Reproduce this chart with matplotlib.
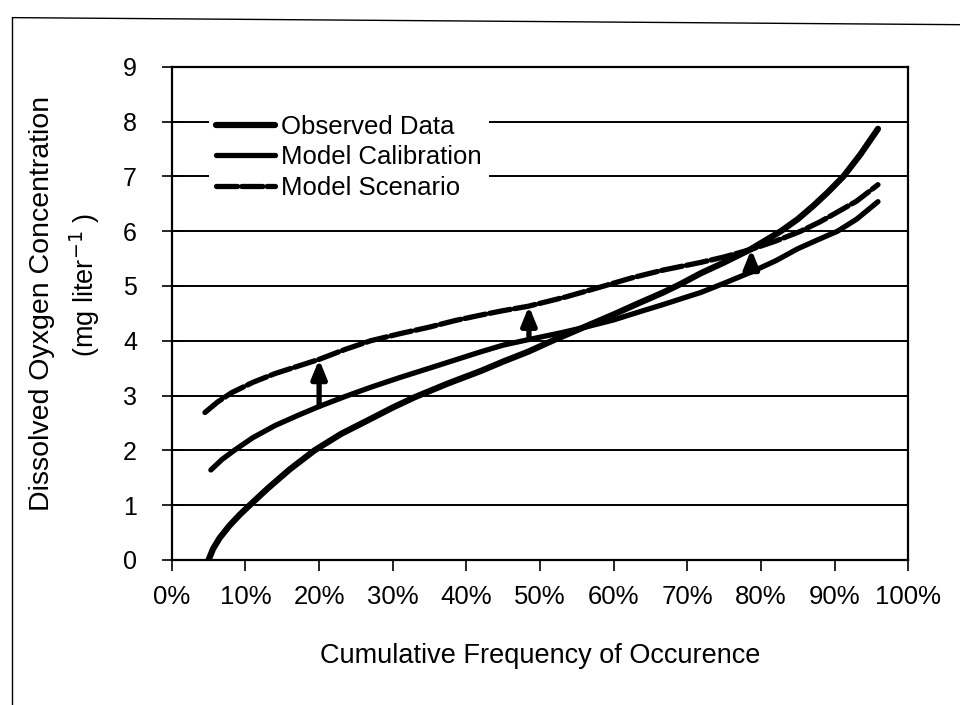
import matplotlib
matplotlib.use("Agg")
import matplotlib.pyplot as plt
from matplotlib.lines import Line2D
import numpy as np

plt.rcParams['font.family'] = ['Liberation Sans', 'DejaVu Sans']

# ---- data (x in % cumulative frequency, y in mg/L) ----
obs_x = [5.0, 5.6, 6.5, 7.8, 9.2, 10.6, 13.0, 16.0, 19.4, 23.0, 27.1, 30.0,
         33.0, 37.5, 42.0, 45.0, 48.4, 52.0, 56.0, 60.0, 63.3, 66.7, 69.0,
         71.8, 75.0, 78.6, 82.7, 85.0, 87.0, 89.0, 91.2, 93.5, 95.9]
obs_y = [0.0, 0.2, 0.4, 0.62, 0.82, 1.0, 1.3, 1.65, 2.0, 2.3, 2.58, 2.78,
         2.97, 3.22, 3.45, 3.62, 3.8, 4.02, 4.25, 4.48, 4.68, 4.88, 5.03,
         5.23, 5.43, 5.67, 6.0, 6.22, 6.45, 6.7, 7.0, 7.4, 7.87]

cal_x = [5.3, 6.8, 8.5, 11.0, 14.0, 17.0, 20.0, 23.5, 27.0, 31.0, 35.0,
         38.5, 42.0, 45.0, 48.4, 53.0, 56.5, 60.0, 63.3, 66.7, 69.0, 71.8,
         75.0, 78.6, 82.0, 85.0, 88.0, 90.4, 93.0, 95.9]
cal_y = [1.64, 1.83, 2.0, 2.23, 2.45, 2.63, 2.8, 2.98, 3.15, 3.33, 3.5,
         3.65, 3.8, 3.92, 4.02, 4.15, 4.26, 4.38, 4.52, 4.66, 4.76, 4.88,
         5.05, 5.25, 5.46, 5.68, 5.86, 6.0, 6.22, 6.54]

scn_x = [4.5, 6.2, 8.1, 11.0, 14.0, 17.0, 20.0, 23.5, 27.0, 31.0, 35.0,
         38.5, 42.0, 45.0, 48.4, 53.5, 58.7, 62.5, 66.7, 71.8, 75.0, 78.7,
         82.0, 85.4, 88.0, 90.0, 93.0, 95.9]
scn_y = [2.69, 2.88, 3.05, 3.24, 3.4, 3.53, 3.66, 3.84, 4.0, 4.13, 4.25,
         4.37, 4.47, 4.55, 4.63, 4.8, 5.0, 5.15, 5.29, 5.43, 5.53, 5.67,
         5.82, 6.0, 6.17, 6.32, 6.55, 6.85]

arrow_x = [20.0, 48.5, 78.7]

x_ticks = [0, 10, 20, 30, 40, 50, 60, 70, 80, 90, 100]
x_labels = ['0%', '10%', '20%', '30%', '40%', '50%', '60%', '70%', '80%', '90%', '100%']
y_ticks = [0, 1, 2, 3, 4, 5, 6, 7, 8, 9]

fig = plt.figure(figsize=(9.6, 7.05), dpi=100)
ax = fig.add_axes([0.179, 0.206, 0.767, 0.699])

ax.set_xlim(0, 100)
ax.set_ylim(0, 9)

# horizontal gridlines
for yv in y_ticks[1:-1]:
    ax.axhline(yv, color='black', lw=1.4, zorder=1)

ax.plot(obs_x, obs_y, color='black', lw=4.5, solid_capstyle='round',
        solid_joinstyle='round', zorder=3, label='Observed Data')
ax.plot(cal_x, cal_y, color='black', lw=3.8, solid_capstyle='round',
        solid_joinstyle='round', zorder=3, label='Model Calibration')
ax.plot(scn_x, scn_y, color='black', lw=3.8, ls=(0, (4, 0.8)),
        dash_capstyle='round', zorder=3, label='Model Scenario')

for ax_x in arrow_x:
    y0 = np.interp(ax_x, cal_x, cal_y)
    y1 = np.interp(ax_x, scn_x, scn_y)
    ax.annotate('', xy=(ax_x, y1), xytext=(ax_x, y0),
                arrowprops=dict(arrowstyle='-|>,head_width=0.45,head_length=1.1',
                                color='black', lw=3.8, shrinkA=0, shrinkB=0),
                zorder=4)

ax.set_xticks(x_ticks)
ax.set_xticklabels(x_labels)
ax.set_yticks(y_ticks)
ax.tick_params(axis='x', direction='out', length=8, width=1.2, pad=10, labelsize=18.5)
ax.tick_params(axis='y', direction='inout', length=14, width=1.2, pad=18, labelsize=18)
for s in ax.spines.values():
    s.set_linewidth(1.6)
    s.set_color('black')

ax.set_xlabel('Cumulative Frequency of Occurence', fontsize=19.5, labelpad=25)

fig.text(0.044, 0.570, 'Dissolved Oyxgen Concentration', rotation=90,
         ha='center', va='center', fontsize=20.5)
fig.text(0.088, 0.596, '(mg liter$^{-1}$ )', rotation=90,
         ha='center', va='center', fontsize=19.5)

leg = ax.legend(loc='upper left', bbox_to_anchor=(0.050, 0.919), frameon=True,
                fontsize=18.5, handlelength=2.3, handletextpad=0.2,
                labelspacing=0.26, borderpad=0.3, borderaxespad=0,
                fancybox=False, framealpha=1.0)
leg.get_frame().set_facecolor('white')
leg.get_frame().set_edgecolor('none')
leg.set_zorder(5)

# scan border lines
fig.add_artist(Line2D([0.013, 0.013], [0.0, 0.975], color='black', lw=1.0))
fig.add_artist(Line2D([0.013, 1.0], [0.975, 0.965], color='black', lw=1.0))

fig.savefig('out.png', dpi=100, facecolor='white')
